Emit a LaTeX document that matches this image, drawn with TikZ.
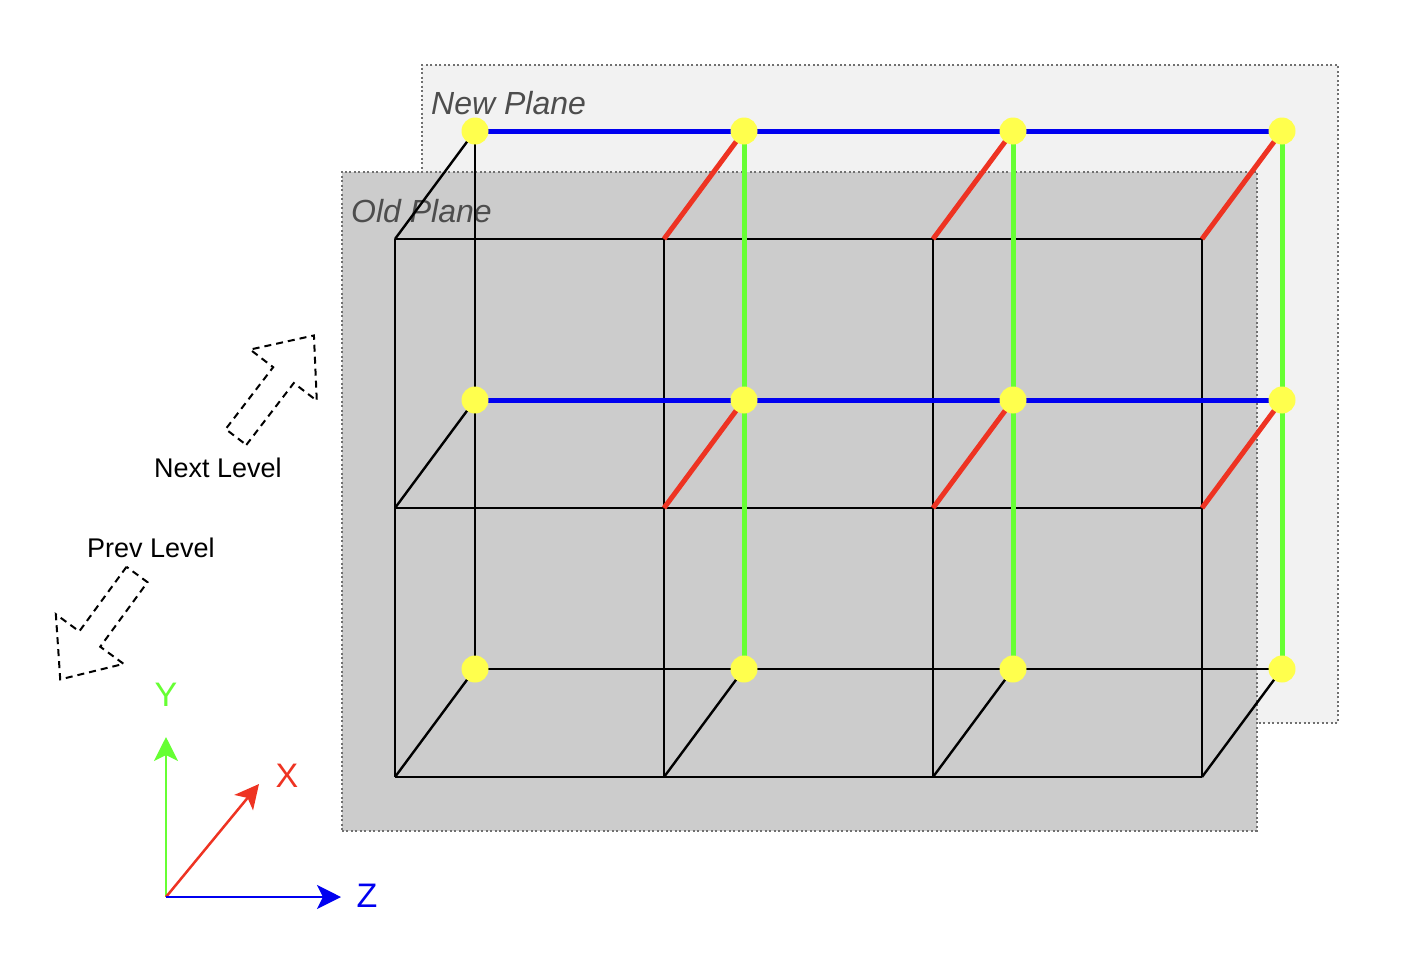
\documentclass[tikz,border=0pt]{standalone}
\usepackage{fontspec}
\setmainfont{Liberation Sans}
\usetikzlibrary{arrows.meta}
\definecolor{newgray}{HTML}{F2F2F2}
\definecolor{oldgray}{HTML}{CCCCCC}
\definecolor{bordergray}{HTML}{707070}
\definecolor{labelgray}{HTML}{4D4D4D}
\definecolor{axisblue}{HTML}{0000F0}
\definecolor{axisgreen}{HTML}{66FF33}
\definecolor{axisred}{HTML}{EE3322}
\definecolor{dotyellow}{HTML}{FFFF4D}
\tikzset{
	plane/.style={
		rectangle,
		draw=bordergray,
		line width=1.5pt,
		dash pattern=on 2pt off 2.5pt,
		anchor=north west,
		inner sep=0pt
	},
	planelabel/.style={
		anchor=base west,
		inner sep=0pt,
		text=labelgray,
		font=\fontsize{32}{38}\selectfont\itshape
	},
	edge/.style={line width=2.4pt, black},
	link/.style={line width=5pt},
	joint/.style={circle, fill=dotyellow, minimum size=27pt, inner sep=0pt},
	axis/.style={line width=2.5pt, -{Stealth[length=24pt,width=24pt,inset=6pt]}},
	axislabel/.style={anchor=base, inner sep=0pt, font=\fontsize{34}{40}\selectfont},
	hint/.style={anchor=base, inner sep=0pt, font=\fontsize{27}{32}\selectfont},
	levelarrow/.style={draw=black, line width=2pt, dash pattern=on 7pt off 5pt}
}
\begin{document}
\begin{tikzpicture}[x=1pt,y=-1pt]
	\useasboundingbox (0,0) rectangle (1410,964);
	
	% planes
	\node[plane, fill=newgray, minimum width=916pt, minimum height=658pt] (NewPlane) at (421,64) {};
	\node[planelabel] (NewLabel) at (431,114) {New Plane};
	\node[plane, fill=oldgray, minimum width=915pt, minimum height=659pt] (OldPlane) at (341,171) {};
	\node[planelabel] (OldLabel) at (351,222) {Old Plane};
	
	% grid points
	\foreach \c in {0,...,3}
		\foreach \r in {0,1,2} {
			\coordinate (Front\c\r) at ({395+269*\c},{239+269*\r});
			\coordinate (Back\c\r) at ({475+269*\c},{131+269*\r});
		}
	
	% black edges
	\foreach \r in {0,1,2} \draw[edge] (Front0\r) -- (Front3\r);
	\foreach \c in {0,...,3} \draw[edge] (Front\c0) -- (Front\c2);
	\foreach \c in {0,...,3} \draw[edge] (Front\c2) -- (Back\c2);
	\foreach \r in {0,1} \draw[edge] (Front0\r) -- (Back0\r);
	\draw[edge] (Back00) -- (Back02);
	\draw[edge] (Back02) -- (Back32);
	
	% coloured links
	\foreach \r in {0,1} \draw[link, axisblue] (Back0\r) -- (Back3\r);
	\foreach \c in {1,2,3} {
		\draw[link, axisgreen] (Back\c0) -- (Back\c2);
		\draw[link, axisred] (Front\c0) -- (Back\c0);
		\draw[link, axisred] (Front\c1) -- (Back\c1);
	}
	
	% joints
	\foreach \c in {0,...,3}
		\foreach \r in {0,1,2}
			\node[joint] (Dot\c\r) at (Back\c\r) {};
	
	% level arrows
	\begin{scope}[shift={(236,437)}, rotate=52.5]
		\draw[levelarrow] (0,13) -- (78,13) -- (78,42) -- (128,0) -- (78,-42) -- (78,-13) -- (0,-13) -- cycle;
	\end{scope}
	\node[hint] (NextLabel) at (218,477) {Next Level};
	\begin{scope}[shift={(137,574.5)}, rotate=233.8]
		\draw[levelarrow] (0,13) -- (80,13) -- (80,42) -- (130,0) -- (80,-42) -- (80,-13) -- (0,-13) -- cycle;
	\end{scope}
	\node[hint] (PrevLabel) at (151,557) {Prev Level};
	
	% axes
	\coordinate (Origin) at (166,897);
	\coordinate (YEnd) at (166,737);
	\coordinate (XEnd) at (259,784);
	\coordinate (ZEnd) at (341,897);
	\draw[axis, axisgreen] (Origin) -- (YEnd);
	\draw[axis, axisred] (Origin) -- (XEnd);
	\draw[axis, axisblue] (Origin) -- (ZEnd);
	\node[axislabel, text=axisgreen] (YLabel) at (166,706) {Y};
	\node[axislabel, text=axisred] (XLabel) at (287,787) {X};
	\node[axislabel, text=axisblue] (ZLabel) at (367,907) {Z};
\end{tikzpicture}
\end{document}
